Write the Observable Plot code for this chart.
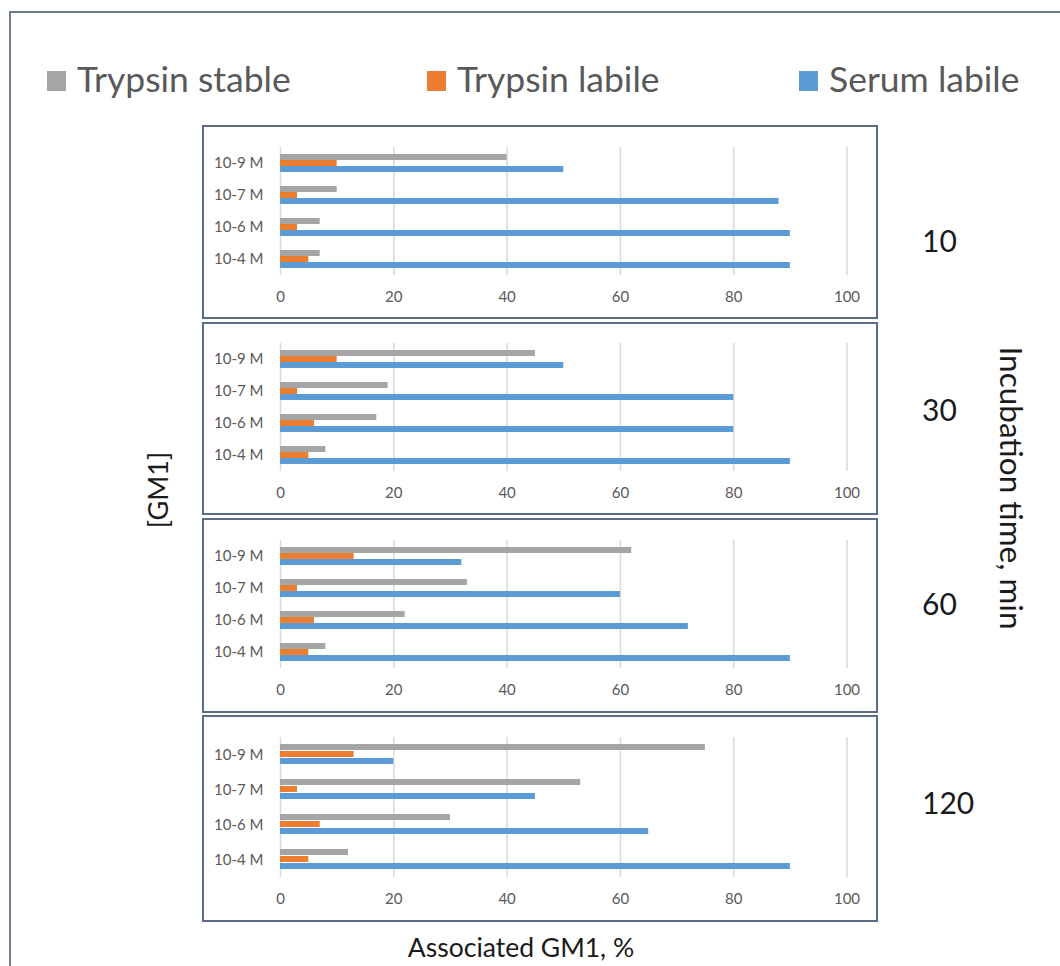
<!DOCTYPE html>
<html>
<head>
<meta charset="utf-8">
<script src="https://cdn.jsdelivr.net/npm/d3@7"></script>
<script src="https://cdn.jsdelivr.net/npm/@observablehq/plot@0.6"></script>
<style>
  html, body { margin: 0; padding: 0; background: #fff; }
  #root { position: relative; width: 1060px; height: 966px; overflow: hidden; font-family: Lato, "Open Sans", sans-serif; }
  .panel { position: absolute; box-sizing: border-box; border: 2px solid #5b6b85; background: #fff; }
  .panel svg { display: block; }
</style>
</head>
<body>
<div id="root"></div>
<script>
// ---- data ----
const times = [10, 30, 60, 120];
const concentrations = ["10-9 M", "10-7 M", "10-6 M", "10-4 M"];
const series = ["Trypsin stable", "Trypsin labile", "Serum labile"];
const seriesColors = ["#a5a5a5", "#ed7d31", "#5b9bd5"];
const xTicks = [0, 20, 40, 60, 80, 100];
// one row per incubation time, values in concentration order
const trypsinStable = [[40, 10, 7, 7], [45, 19, 17, 8], [62, 33, 22, 8], [75, 53, 30, 12]];
const trypsinLabile = [[10, 3, 3, 5], [10, 3, 6, 5], [13, 3, 6, 5], [13, 3, 7, 5]];
const serumLabile   = [[50, 88, 90, 90], [50, 80, 80, 90], [32, 60, 72, 90], [20, 45, 65, 90]];
const xTitle = "Associated GM1, %";
const yTitle = "[GM1]";
const rightTitle = "Incubation time, min";

// long table
const seriesValues = [trypsinStable, trypsinLabile, serumLabile];
const rows = [];
times.forEach((t, ti) => {
  concentrations.forEach((c, ci) => {
    series.forEach((s, si) => {
      rows.push({time: t, conc: c, series: s, value: seriesValues[si][ti][ci]});
    });
  });
});

const root = document.getElementById("root");

// ---- overlay (frame, legend, titles) ----
const ov = d3.select(root).append("svg")
  .attr("width", 1060).attr("height", 966)
  .style("position", "absolute").style("left", 0).style("top", 0);

ov.append("line").attr("x1", 10).attr("x2", 10).attr("y1", 12).attr("y2", 966)
  .attr("stroke", "#6d7c93").attr("stroke-width", 2);
ov.append("line").attr("x1", 9).attr("x2", 1060).attr("y1", 12).attr("y2", 12)
  .attr("stroke", "#6d7c93").attr("stroke-width", 2);

const legendX = [47, 427, 799];
series.forEach((s, i) => {
  ov.append("rect").attr("x", legendX[i]).attr("y", 71).attr("width", 19).attr("height", 20)
    .attr("fill", seriesColors[i]);
  ov.append("text").attr("x", legendX[i] + 30).attr("y", 92)
    .attr("font-family", "Lato").attr("font-size", 35.5).attr("fill", "#595959")
    .text(s);
});

const timeLabelY = [252, 421, 615, 814];
times.forEach((t, i) => {
  ov.append("text").attr("x", 922).attr("y", timeLabelY[i])
    .attr("font-family", "Lato").attr("font-size", 30).attr("fill", "#1a1a1a")
    .text(String(t));
});

ov.append("text").attr("transform", "translate(1012,488) rotate(90)")
  .attr("text-anchor", "middle").attr("dominant-baseline", "central")
  .attr("font-family", "Lato").attr("font-size", 31.5).attr("fill", "#1a1a1a")
  .text(rightTitle);

ov.append("text").attr("transform", "translate(157,490) rotate(-90)")
  .attr("text-anchor", "middle").attr("dominant-baseline", "central")
  .attr("font-family", "Lato").attr("font-size", 27).attr("fill", "#1a1a1a")
  .text(yTitle);

ov.append("text").attr("x", 521).attr("y", 957)
  .attr("text-anchor", "middle")
  .attr("font-family", "Lato").attr("font-size", 26.5).attr("fill", "#1a1a1a")
  .text(xTitle);

// ---- panels ----
const panelTop = [125, 322, 518, 715];
const panelH = [194, 193, 195, 207];

times.forEach((t, i) => {
  const div = document.createElement("div");
  div.className = "panel";
  div.style.left = "202px";
  div.style.top = panelTop[i] + "px";
  div.style.width = "676px";
  div.style.height = panelH[i] + "px";
  root.appendChild(div);

  const data = rows.filter(d => d.time === t);
  const chart = Plot.plot({
    width: 672,
    height: panelH[i] - 4,
    marginLeft: 76,
    marginRight: 29.5,
    marginTop: 19,
    marginBottom: 42,
    style: {fontFamily: "Lato", fontSize: "15px", color: "#595959", background: "transparent"},
    x: {domain: [0, 100], ticks: xTicks, tickSize: 0, tickPadding: 16, label: null},
    fy: {domain: concentrations, padding: 0, axis: "left", label: null, tickSize: 0, tickPadding: 17},
    y: {domain: series, paddingInner: 0.08, paddingOuter: 1.0, axis: null},
    color: {domain: series, range: seriesColors},
    marks: [
      Plot.gridX(xTicks, {stroke: "#d9d9d9", strokeOpacity: 1, strokeWidth: 1.5}),
      Plot.barX(data, {x: "value", y: "series", fy: "conc", fill: "series"})
    ]
  });
  div.appendChild(chart);
});
</script>
</body>
</html>
